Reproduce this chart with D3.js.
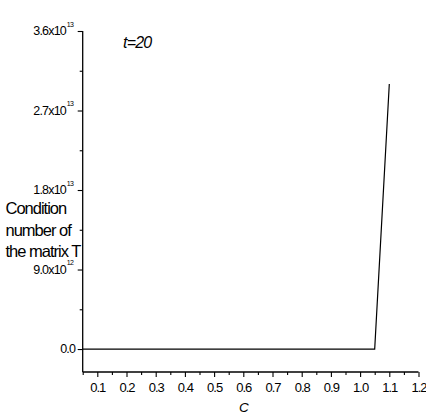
<!DOCTYPE html>
<html>
<head>
<meta charset="utf-8">
<script src="https://cdn.jsdelivr.net/npm/d3@7"></script>
<style>
  html, body { margin: 0; padding: 0; background: #fff; }
  svg text { font-family: "Liberation Sans", Arial, sans-serif; fill: #000; }
</style>
</head>
<body>
<svg id="chart" width="426" height="417"></svg>
<script>
// Condition number of the matrix T versus C, at t = 20
const cValues = [0.05, 0.10, 0.15, 0.20, 0.25, 0.30, 0.35, 0.40, 0.45, 0.50, 0.55,
                 0.60, 0.65, 0.70, 0.75, 0.80, 0.85, 0.90, 0.95, 1.00, 1.05, 1.10];
const condValues = [0, 0, 0, 0, 0, 0, 0, 0, 0, 0, 0,
                    0, 0, 0, 0, 0, 0, 0, 0, 0, 0, 3.0e13];

const xMajorTicks = [0.1, 0.2, 0.3, 0.4, 0.5, 0.6, 0.7, 0.8, 0.9, 1.0, 1.1, 1.2];
const xMinorTicks = [0.05, 0.15, 0.25, 0.35, 0.45, 0.55, 0.65, 0.75, 0.85, 0.95, 1.05, 1.15];
const yMajorTicks = [0, 9.0e12, 1.8e13, 2.7e13, 3.6e13];
const yMinorTicks = [4.5e12, 1.35e13, 2.25e13, 3.15e13];
const yTickMantissa = ["0.0", "9.0x10", "1.8x10", "2.7x10", "3.6x10"];
const yTickExponent = ["", "12", "13", "13", "13"];

const yTitleLines = ["Condition", "number of", "the matrix T"];
const annotation = "t=20";
const xTitle = "C";

const svg = d3.select("#chart");

const x = d3.scaleLinear().domain([0.05, 1.2]).range([82.7, 418.5]);
const y = d3.scaleLinear().domain([-2.6e12, 3.6e13]).range([372, 31]);

// x axis: labelled major ticks plus unlabelled minor ticks, pointing down
const xAxis = svg.append("g").attr("transform", `translate(0,${y.range()[0]})`)
  .call(d3.axisBottom(x).tickValues(xMajorTicks).tickSize(5).tickPadding(6)
        .tickFormat(d3.format(".1f")));
xAxis.select(".domain").attr("stroke-width", 1.3).attr("d", `M${x.range()[0]},0H${x.range()[1]}`);
xAxis.selectAll(".tick line").attr("stroke-width", 1.1);
xAxis.selectAll(".tick text").attr("font-size", 13).attr("letter-spacing", -1);
svg.append("g").attr("transform", `translate(0,${y.range()[0]})`)
  .call(d3.axisBottom(x).tickValues(xMinorTicks).tickSize(3).tickFormat(""))
  .call(g => g.select(".domain").remove())
  .selectAll(".tick line").attr("stroke-width", 1.1);

// y axis: major ticks with scientific labels, minor ticks between
const yAxis = svg.append("g").attr("transform", `translate(${x.range()[0]},0)`)
  .call(d3.axisLeft(y).tickValues(yMajorTicks).tickSize(5).tickFormat(""));
yAxis.select(".domain").attr("stroke-width", 1.3).attr("d", `M0,${y.range()[0]}V${y.range()[1]}`);
yAxis.selectAll(".tick line").attr("stroke-width", 1.1);
svg.append("g").attr("transform", `translate(${x.range()[0]},0)`)
  .call(d3.axisLeft(y).tickValues(yMinorTicks).tickSize(3).tickFormat(""))
  .call(g => g.select(".domain").remove())
  .selectAll(".tick line").attr("stroke-width", 1.1);

yMajorTicks.forEach((v, i) => {
  const hasExp = yTickExponent[i] !== "";
  const right = x.range()[0] - (hasExp ? 16.7 : 7.5);
  svg.append("text")
    .attr("x", right).attr("y", y(v) + 4)
    .attr("text-anchor", "end")
    .attr("font-size", 12.5).attr("letter-spacing", -0.8)
    .text(yTickMantissa[i]);
  if (hasExp) {
    svg.append("text")
      .attr("x", right + 0.7).attr("y", y(v) - 4.5)
      .attr("font-size", 7).attr("letter-spacing", -0.6)
      .text(yTickExponent[i]);
  }
});

// data line
const line = d3.line().x((d, i) => x(cValues[i])).y(d => y(d));
svg.append("path")
  .datum(condValues)
  .attr("fill", "none")
  .attr("stroke", "#000")
  .attr("stroke-width", 1.2)
  .attr("d", line);

// titles and annotation
svg.append("g").selectAll("text").data(yTitleLines).join("text")
  .attr("x", 5.5).attr("y", (d, i) => 214 + i * 21.5)
  .attr("font-size", 16.5).attr("letter-spacing", -1)
  .text(d => d);

svg.append("text")
  .attr("x", 123).attr("y", 48)
  .attr("font-size", 16).attr("font-style", "italic").attr("letter-spacing", -0.8)
  .text(annotation);

svg.append("text")
  .attr("x", 239).attr("y", 412)
  .attr("font-size", 13.5).attr("font-style", "italic")
  .text(xTitle);
</script>
</body>
</html>
